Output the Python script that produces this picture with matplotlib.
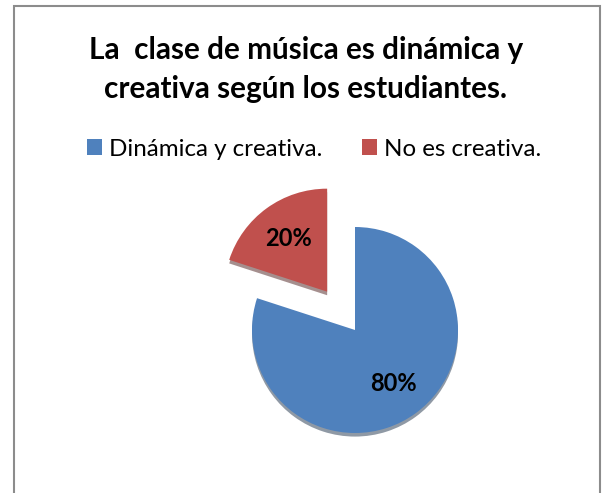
import matplotlib
matplotlib.use('Agg')
import matplotlib.pyplot as plt
from matplotlib.patches import Rectangle

# Data
categories = ['Dinámica y creativa.', 'No es creativa.']
values = [80, 20]
colors = ['#4F81BD', '#C0504D']
explode = [0.0, 0.46]
title_lines = ['La  clase de música es dinámica y',
               'creativa según los estudiantes.']

W, H = 604, 493
plt.rcParams['font.family'] = ['Lato', 'DejaVu Sans']

fig = plt.figure(figsize=(W / 100, H / 100), dpi=100)
ax = fig.add_axes([0, 0, 1, 1])

# pie geometry in pixels (centre of the blue slice and radius)
cx, cy, r = 355, 330, 103

wedges, texts, autotexts = ax.pie(
    values, colors=colors, explode=explode, startangle=90,
    counterclock=False, autopct='%d%%', pctdistance=0.64,
    wedgeprops=dict(linewidth=0),
    shadow=dict(ox=0.0, oy=-0.025, shade=0.6),
    textprops=dict(fontsize=17, fontweight='bold', color='black'))

ax.set_xlim(-cx / r, (W - cx) / r)
ax.set_ylim((cy - H) / r, cy / r)
ax.set_aspect('equal')
ax.axis('off')

# title, two lines
fig.text(306 / W, 1 - 59 / H, title_lines[0], ha='center', va='baseline',
         fontsize=21.4, fontweight='bold')
fig.text(306 / W, 1 - 98 / H, title_lines[1], ha='center', va='baseline',
         fontsize=21.4, fontweight='bold')

# legend with square markers
leg = fig.legend(wedges, categories, ncol=2, loc='center',
                 bbox_to_anchor=(314 / W, 1 - 149 / H), frameon=False,
                 fontsize=17.4, handlelength=0.62, handleheight=0.62,
                 handletextpad=0.29, columnspacing=1.65, borderpad=0)

# grey chart border (bottom edge runs off the picture)
fig.add_artist(Rectangle((14 / W, -0.05), (600 - 14) / W, 1.05 - 6 / H,
                         transform=fig.transFigure, fill=False,
                         edgecolor='#8c8c8c', linewidth=1.5))

fig.savefig('out.png', dpi=100)
